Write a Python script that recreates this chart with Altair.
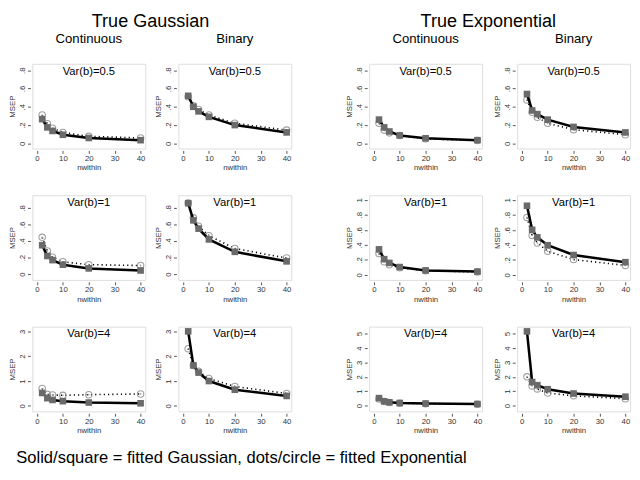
import altair as alt
import pandas as pd

FONT = "Liberation Sans"

# x positions (cluster size)
NWITHIN = [2, 4, 6, 10, 20, 40]

# MSEP values: sq = fitted Gaussian, ci = fitted Exponential
G_C_05_SQ = [0.265, 0.175, 0.136, 0.094, 0.059, 0.035]
G_C_05_CI = [0.31, 0.215, 0.165, 0.12, 0.077, 0.06]
G_B_05_SQ = [0.52, 0.40, 0.35, 0.29, 0.20, 0.12]
G_B_05_CI = [0.51, 0.41, 0.37, 0.31, 0.22, 0.145]
E_C_05_SQ = [0.26, 0.175, 0.13, 0.087, 0.056, 0.035]
E_C_05_CI = [0.22, 0.145, 0.115, 0.085, 0.05, 0.032]
E_B_05_SQ = [0.54, 0.36, 0.32, 0.26, 0.18, 0.12]
E_B_05_CI = [0.475, 0.34, 0.285, 0.22, 0.15, 0.095]

G_C_1_SQ = [0.35, 0.22, 0.17, 0.115, 0.07, 0.045]
G_C_1_CI = [0.445, 0.28, 0.205, 0.15, 0.115, 0.105]
G_B_1_SQ = [0.857, 0.65, 0.55, 0.42, 0.27, 0.155]
G_B_1_CI = [0.86, 0.68, 0.58, 0.465, 0.31, 0.195]
E_C_1_SQ = [0.34, 0.21, 0.16, 0.105, 0.06, 0.045]
E_C_1_CI = [0.285, 0.175, 0.135, 0.095, 0.057, 0.04]
E_B_1_SQ = [0.92, 0.60, 0.50, 0.395, 0.265, 0.17]
E_B_1_CI = [0.765, 0.525, 0.425, 0.315, 0.205, 0.127]

G_C_4_SQ = [0.52, 0.31, 0.24, 0.19, 0.135, 0.105]
G_C_4_CI = [0.70, 0.465, 0.44, 0.425, 0.45, 0.48]
G_B_4_SQ = [3.0, 1.63, 1.34, 1.0, 0.65, 0.40]
G_B_4_CI = [2.3, 1.63, 1.39, 1.1, 0.78, 0.5]
E_C_4_SQ = [0.52, 0.30, 0.23, 0.18, 0.14, 0.11]
E_C_4_CI = [0.46, 0.28, 0.21, 0.17, 0.13, 0.10]
E_B_4_SQ = [5.16, 1.64, 1.42, 1.14, 0.84, 0.62]
E_B_4_CI = [2.0, 1.37, 1.16, 0.87, 0.68, 0.48]

X_TICKS = [0, 10, 20, 30, 40]
TICKS_08 = [0, 0.2, 0.4, 0.6, 0.8]
TICKS_1 = [0, 0.2, 0.4, 0.6, 0.8, 1]
TICKS_3 = [0, 1, 2, 3]
TICKS_5 = [0, 1, 2, 3, 4, 5]

W, H = 116, 87

LABEL_EXPR = ("datum.value == 0 ? '0' : (datum.value < 1 ? "
              "replace(format(datum.value, '.1f'), '0.', '.') : format(datum.value, 'd'))")

AX = dict(grid=False, domain=False, ticks=True, tickSize=3, tickColor="#555555",
          offset=2, labelPadding=1, titlePadding=2,
          titleFontWeight="normal", titleFont=FONT, titleFontSize=8, titleColor="#333333",
          labelFont=FONT, labelFontSize=8, labelColor="#333333")


def panel(sq, ci, dom, ticks, label, title=None):
    df = pd.DataFrame({
        "nwithin": NWITHIN + NWITHIN,
        "MSEP": sq + ci,
        "fit": ["Gaussian"] * len(sq) + ["Exponential"] * len(ci),
    })
    base = alt.Chart(df).encode(
        x=alt.X("nwithin:Q",
                scale=alt.Scale(domain=[-1.8, 41.8], nice=False, zero=False),
                axis=alt.Axis(values=X_TICKS, title="nwithin", **AX)),
        y=alt.Y("MSEP:Q",
                scale=alt.Scale(domain=dom, nice=False, zero=False),
                axis=alt.Axis(values=ticks, title="MSEP", labelExpr=LABEL_EXPR,
                              labelAngle=270, labelAlign="center", labelBaseline="bottom", **AX)),
    )
    expo = base.transform_filter(alt.datum.fit == "Exponential")
    gaus = base.transform_filter(alt.datum.fit == "Gaussian")
    layers = [
        expo.mark_line(color="black", strokeWidth=1.6, strokeDash=[1.2, 3.2]),
        expo.mark_point(shape="circle", filled=False, color="#a0a0a0", size=44, strokeWidth=1.1, opacity=1),
        expo.mark_point(shape="circle", filled=True, color="#a0a0a0", size=3, opacity=1),
        gaus.mark_line(color="black", strokeWidth=2.6),
        gaus.mark_square(color="#6a6a6a", size=46, opacity=1),
        alt.Chart(pd.DataFrame({"t": [label]})).mark_text(
            fontSize=11.5, font=FONT, baseline="top", color="black"
        ).encode(text="t:N", x=alt.value(W / 2), y=alt.value(2)),
    ]
    props = dict(width=W, height=H)
    if title:
        props["title"] = alt.TitleParams(title, fontSize=13.5, fontWeight="normal", font=FONT,
                                          anchor="middle", offset=19, color="black")
    return alt.layer(*layers).properties(**props)


def group_title(t):
    return alt.TitleParams(t, fontSize=18.5, fontWeight="normal", font=FONT,
                           anchor="middle", color="black", offset=1)


row1_g = alt.hconcat(
    panel(G_C_05_SQ, G_C_05_CI, [-0.056, 0.87], TICKS_08, "Var(b)=0.5", "Continuous"),
    panel(G_B_05_SQ, G_B_05_CI, [-0.056, 0.87], TICKS_08, "Var(b)=0.5", "Binary"),
    spacing=7, title=group_title("True Gaussian"),
)
row1_e = alt.hconcat(
    panel(E_C_05_SQ, E_C_05_CI, [-0.056, 0.87], TICKS_08, "Var(b)=0.5", "Continuous"),
    panel(E_B_05_SQ, E_B_05_CI, [-0.056, 0.87], TICKS_08, "Var(b)=0.5", "Binary"),
    spacing=9, title=group_title("True Exponential"),
)
row2_g = alt.hconcat(
    panel(G_C_1_SQ, G_C_1_CI, [-0.069, 0.953], TICKS_08, "Var(b)=1"),
    panel(G_B_1_SQ, G_B_1_CI, [-0.069, 0.953], TICKS_08, "Var(b)=1"),
    spacing=7,
)
row2_e = alt.hconcat(
    panel(E_C_1_SQ, E_C_1_CI, [-0.066, 1.06], TICKS_1, "Var(b)=1"),
    panel(E_B_1_SQ, E_B_1_CI, [-0.066, 1.06], TICKS_1, "Var(b)=1"),
    spacing=9,
)
row3_g = alt.hconcat(
    panel(G_C_4_SQ, G_C_4_CI, [-0.22, 3.19], TICKS_3, "Var(b)=4"),
    panel(G_B_4_SQ, G_B_4_CI, [-0.22, 3.19], TICKS_3, "Var(b)=4"),
    spacing=7,
)
row3_e = alt.hconcat(
    panel(E_C_4_SQ, E_C_4_CI, [-0.4, 5.49], TICKS_5, "Var(b)=4"),
    panel(E_B_4_SQ, E_B_4_CI, [-0.4, 5.49], TICKS_5, "Var(b)=4"),
    spacing=9,
)

chart = alt.vconcat(
    alt.hconcat(row1_g, row1_e, spacing=53),
    alt.hconcat(row2_g, row2_e, spacing=53),
    alt.hconcat(row3_g, row3_e, spacing=53),
    spacing=22,
    title=alt.TitleParams("Solid/square = fitted Gaussian, dots/circle = fitted Exponential",
                          orient="bottom", anchor="start", fontSize=17, fontWeight="normal",
                          font=FONT, color="black", offset=16, dx=8),
).properties(
    padding={"left": 0, "top": -2, "right": 0, "bottom": 0}
).configure_view(
    stroke="#a8a8a8", strokeWidth=1
).configure_axis(
    grid=False
).configure(background="white")

chart.save("out.html", embed_options={"renderer": "svg", "actions": False})
